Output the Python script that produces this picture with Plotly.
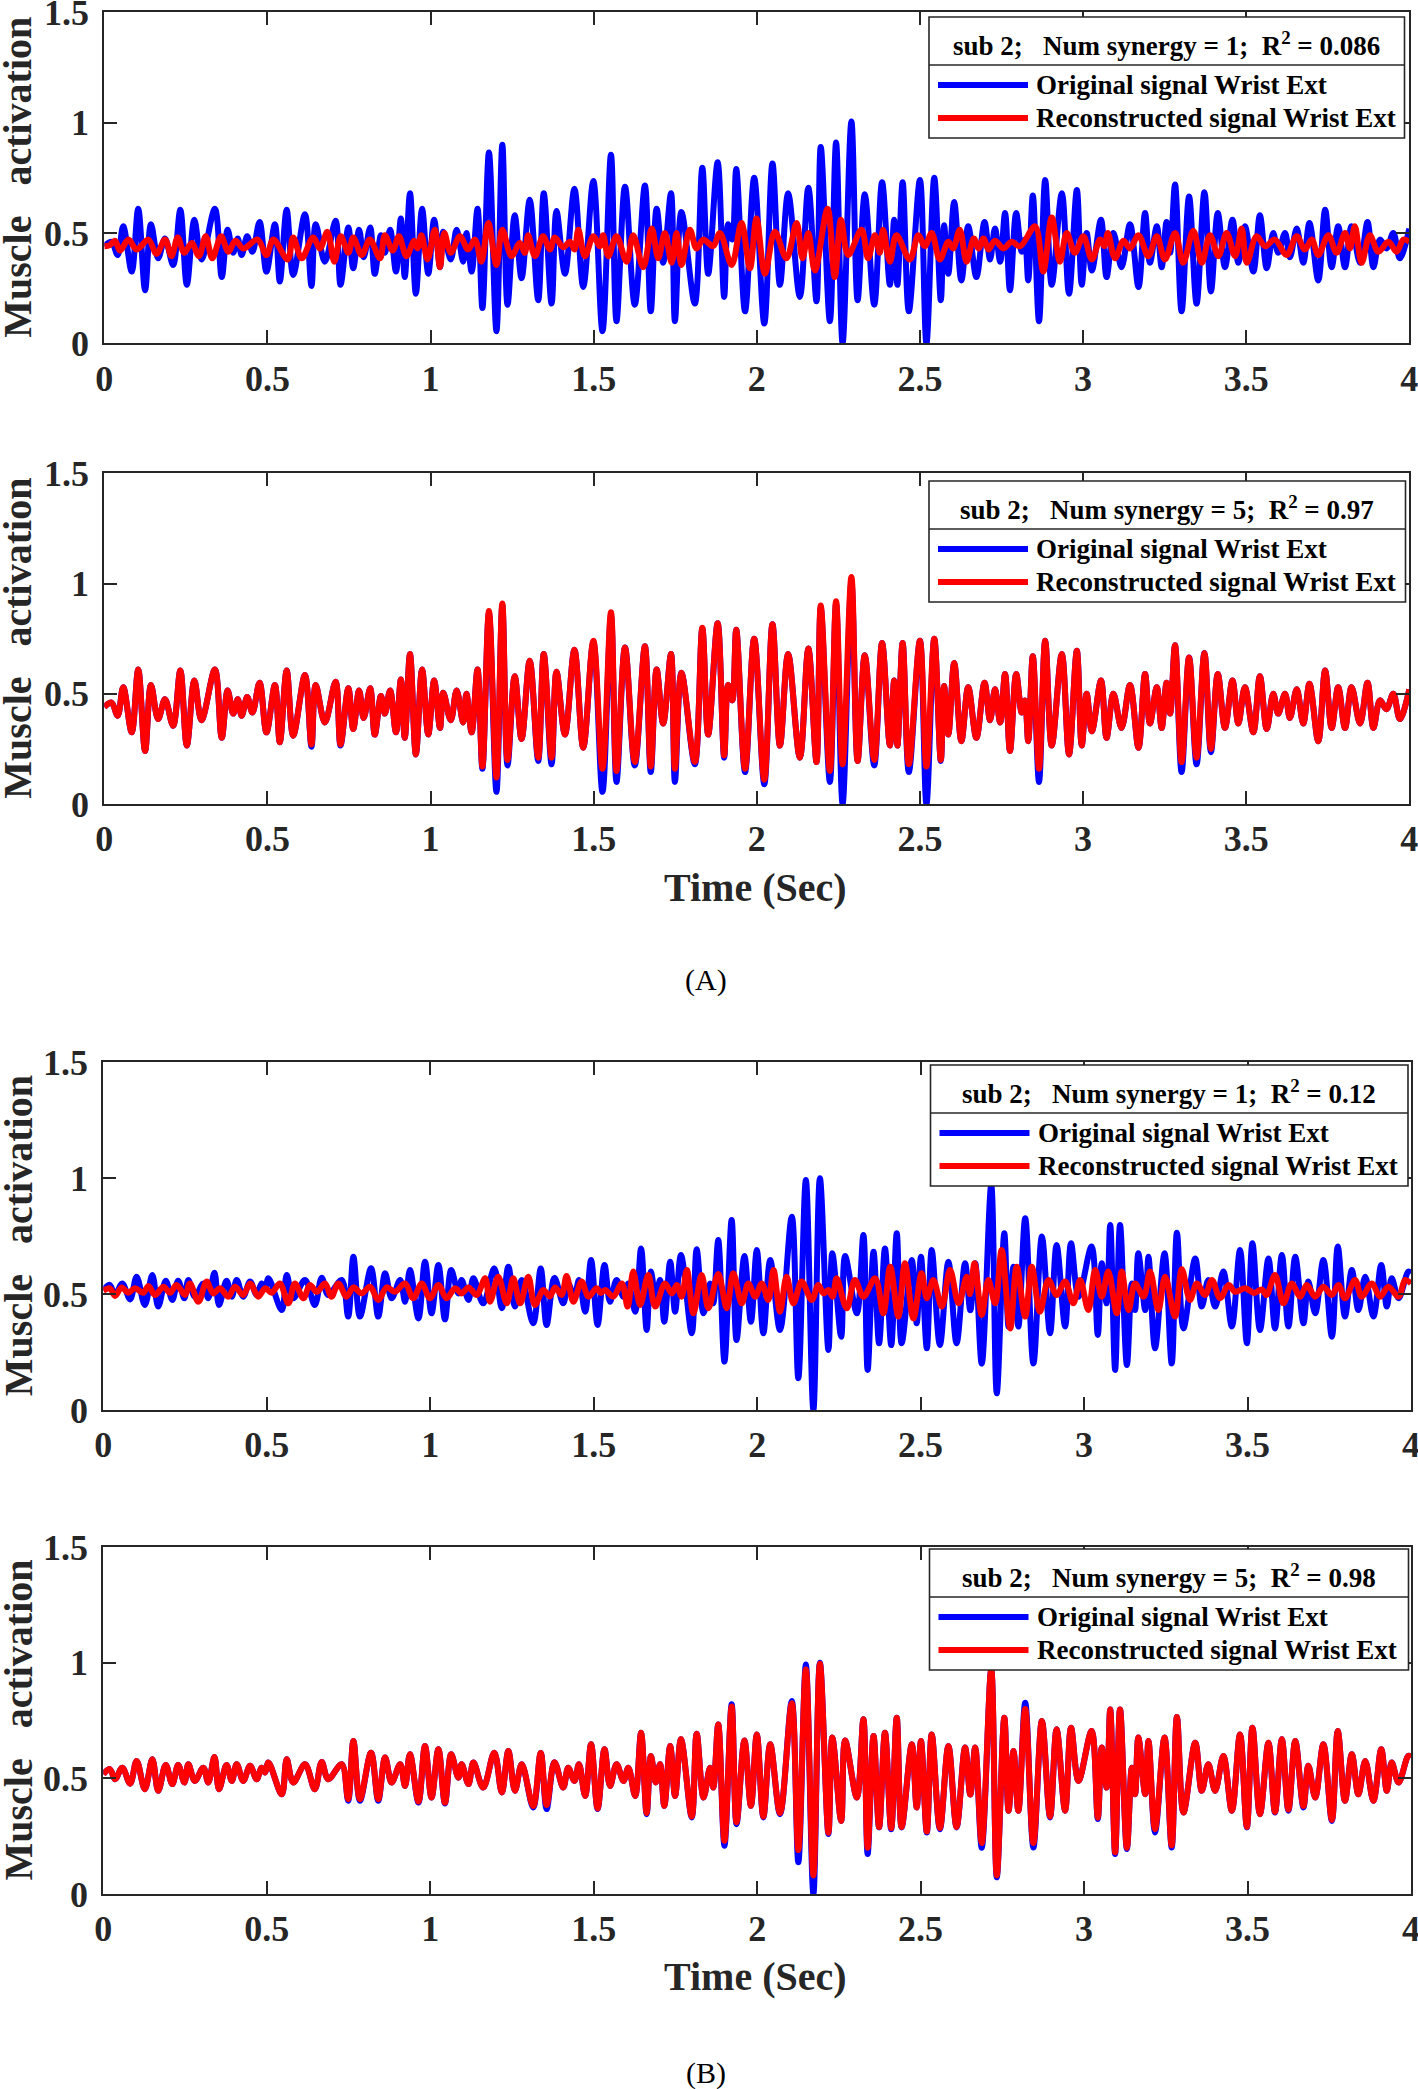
import plotly.graph_objects as go

W, H = 1418, 2089

# ---------------- data ----------------
# (A) original signal, Wrist Ext — extrema times (s) and values
t_orig_a = [0.000, 0.022, 0.041, 0.058, 0.084, 0.104, 0.125, 0.143, 0.165, 0.186, 0.211, 0.233, 0.253, 0.276, 0.298,
            0.339, 0.360, 0.378, 0.395, 0.409, 0.421, 0.438, 0.454, 0.476, 0.497, 0.523, 0.538, 0.559, 0.579, 0.615,
            0.635, 0.648, 0.676, 0.709, 0.724, 0.748, 0.763, 0.781, 0.795, 0.815, 0.829, 0.848, 0.860, 0.876, 0.894,
            0.909, 0.921, 0.937, 0.955, 0.974, 0.993, 1.011, 1.029, 1.039, 1.062, 1.080, 1.100, 1.110, 1.126, 1.144,
            1.159, 1.179, 1.202, 1.220, 1.236, 1.258, 1.279, 1.304, 1.330, 1.347, 1.371, 1.386, 1.412, 1.441, 1.468,
            1.499, 1.527, 1.553, 1.570, 1.596, 1.626, 1.657, 1.675, 1.693, 1.713, 1.737, 1.749, 1.769, 1.810, 1.833,
            1.851, 1.880, 1.900, 1.912, 1.925, 1.937, 1.964, 1.992, 2.023, 2.048, 2.071, 2.096, 2.132, 2.158, 2.183,
            2.196, 2.224, 2.243, 2.263, 2.290, 2.309, 2.331, 2.360, 2.384, 2.408, 2.421, 2.431, 2.447, 2.466, 2.500,
            2.520, 2.544, 2.564, 2.574, 2.587, 2.605, 2.627, 2.648, 2.673, 2.698, 2.715, 2.730, 2.746, 2.761, 2.776,
            2.795, 2.812, 2.822, 2.832, 2.846, 2.865, 2.884, 2.904, 2.935, 2.957, 2.981, 2.996, 3.011, 3.027, 3.055,
            3.072, 3.093, 3.118, 3.144, 3.170, 3.190, 3.205, 3.226, 3.241, 3.256, 3.267, 3.282, 3.302, 3.325, 3.348,
            3.372, 3.392, 3.413, 3.435, 3.458, 3.476, 3.496, 3.522, 3.542, 3.563, 3.583, 3.598, 3.619, 3.634, 3.655,
            3.675, 3.694, 3.721, 3.742, 3.762, 3.782, 3.803, 3.823, 3.849, 3.872, 3.890, 3.910, 3.930, 3.951, 3.971,
            4.000]
v_orig_a = [0.44, 0.46, 0.40, 0.53, 0.325, 0.61, 0.24, 0.54, 0.385, 0.475, 0.355, 0.605, 0.265, 0.56, 0.38,
            0.61, 0.30, 0.515, 0.41, 0.475, 0.40, 0.485, 0.415, 0.55, 0.325, 0.54, 0.28, 0.605, 0.31, 0.585,
            0.26, 0.54, 0.37, 0.555, 0.265, 0.525, 0.34, 0.515, 0.39, 0.525, 0.315, 0.49, 0.41, 0.515, 0.325,
            0.565, 0.30, 0.68, 0.225, 0.61, 0.315, 0.56, 0.345, 0.505, 0.38, 0.515, 0.37, 0.50, 0.325, 0.61,
            0.16, 0.865, 0.055, 0.90, 0.175, 0.58, 0.295, 0.65, 0.195, 0.68, 0.18, 0.60, 0.315, 0.70, 0.255,
            0.735, 0.055, 0.855, 0.10, 0.71, 0.175, 0.715, 0.145, 0.61, 0.365, 0.68, 0.10, 0.595, 0.18, 0.795,
            0.315, 0.82, 0.21, 0.54, 0.47, 0.79, 0.145, 0.75, 0.09, 0.815, 0.265, 0.68, 0.21, 0.705, 0.19,
            0.89, 0.10, 0.91, 0.0, 1.005, 0.195, 0.675, 0.175, 0.73, 0.265, 0.56, 0.265, 0.73, 0.145, 0.74,
            0.0, 0.75, 0.195, 0.535, 0.315, 0.64, 0.285, 0.53, 0.30, 0.55, 0.38, 0.52, 0.37, 0.59, 0.24,
            0.59, 0.415, 0.47, 0.285, 0.67, 0.10, 0.74, 0.265, 0.68, 0.225, 0.695, 0.265, 0.50, 0.33, 0.56,
            0.30, 0.50, 0.345, 0.54, 0.255, 0.59, 0.365, 0.53, 0.345, 0.55, 0.41, 0.72, 0.145, 0.665, 0.18,
            0.685, 0.235, 0.59, 0.345, 0.56, 0.365, 0.53, 0.325, 0.58, 0.34, 0.50, 0.41, 0.50, 0.39, 0.52,
            0.365, 0.545, 0.285, 0.605, 0.345, 0.53, 0.345, 0.53, 0.365, 0.55, 0.345, 0.47, 0.43, 0.50, 0.385,
            0.52]
# (A) reconstructed with 5 synergies (same time points as the original)
v_rec5_a = [0.44, 0.46, 0.40, 0.53, 0.325, 0.61, 0.24, 0.54, 0.385, 0.475, 0.355, 0.605, 0.265, 0.56, 0.38,
            0.61, 0.30, 0.515, 0.41, 0.475, 0.40, 0.485, 0.415, 0.55, 0.325, 0.54, 0.28, 0.605, 0.31, 0.585,
            0.27, 0.54, 0.37, 0.555, 0.27, 0.525, 0.34, 0.515, 0.39, 0.525, 0.315, 0.49, 0.41, 0.515, 0.325,
            0.565, 0.30, 0.68, 0.225, 0.61, 0.315, 0.56, 0.345, 0.505, 0.38, 0.515, 0.37, 0.50, 0.325, 0.61,
            0.17, 0.875, 0.12, 0.91, 0.20, 0.58, 0.295, 0.65, 0.21, 0.68, 0.21, 0.60, 0.315, 0.70, 0.255,
            0.74, 0.16, 0.87, 0.15, 0.71, 0.19, 0.715, 0.17, 0.61, 0.365, 0.68, 0.16, 0.595, 0.19, 0.80,
            0.315, 0.82, 0.22, 0.54, 0.47, 0.79, 0.16, 0.75, 0.11, 0.815, 0.265, 0.68, 0.21, 0.705, 0.19,
            0.90, 0.15, 0.92, 0.18, 1.03, 0.195, 0.675, 0.20, 0.73, 0.265, 0.56, 0.265, 0.73, 0.18, 0.74,
            0.17, 0.75, 0.20, 0.535, 0.315, 0.64, 0.285, 0.53, 0.30, 0.55, 0.38, 0.52, 0.37, 0.59, 0.24,
            0.59, 0.415, 0.47, 0.285, 0.67, 0.16, 0.74, 0.265, 0.68, 0.225, 0.695, 0.265, 0.50, 0.33, 0.56,
            0.30, 0.50, 0.345, 0.54, 0.255, 0.59, 0.365, 0.53, 0.345, 0.55, 0.41, 0.72, 0.19, 0.665, 0.21,
            0.685, 0.25, 0.59, 0.345, 0.56, 0.365, 0.53, 0.325, 0.58, 0.34, 0.50, 0.41, 0.50, 0.39, 0.52,
            0.365, 0.545, 0.285, 0.605, 0.345, 0.53, 0.345, 0.53, 0.365, 0.55, 0.345, 0.47, 0.43, 0.50, 0.385,
            0.52]
# (A) reconstructed with 1 synergy
t_rec1_a = [0.000, 0.017, 0.033, 0.048, 0.074, 0.099, 0.135, 0.160, 0.186, 0.206, 0.225, 0.245, 0.268, 0.290, 0.311,
            0.331, 0.358, 0.380, 0.402, 0.426, 0.470, 0.497, 0.518, 0.562, 0.579, 0.605, 0.640, 0.661, 0.684, 0.705,
            0.725, 0.748, 0.763, 0.789, 0.814, 0.845, 0.860, 0.884, 0.903, 0.926, 0.950, 0.960, 0.972, 0.991, 1.013,
            1.029, 1.042, 1.062, 1.090, 1.115, 1.136, 1.156, 1.177, 1.202, 1.220, 1.248, 1.274, 1.289, 1.299, 1.320,
            1.345, 1.366, 1.381, 1.407, 1.427, 1.441, 1.453, 1.473, 1.499, 1.519, 1.529, 1.545, 1.570, 1.601, 1.621,
            1.652, 1.678, 1.698, 1.718, 1.739, 1.754, 1.769, 1.795, 1.815, 1.836, 1.866, 1.887, 1.923, 1.953, 1.979,
            1.999, 2.025, 2.055, 2.091, 2.122, 2.140, 2.158, 2.178, 2.217, 2.239, 2.258, 2.280, 2.321, 2.341, 2.362,
            2.377, 2.387, 2.408, 2.428, 2.469, 2.495, 2.515, 2.536, 2.561, 2.587, 2.602, 2.622, 2.643, 2.665, 2.680,
            2.695, 2.710, 2.730, 2.756, 2.781, 2.807, 2.853, 2.878, 2.904, 2.929, 2.950, 2.975, 3.001, 3.027, 3.052,
            3.065, 3.076, 3.098, 3.124, 3.144, 3.170, 3.200, 3.226, 3.251, 3.282, 3.307, 3.338, 3.364, 3.389, 3.415,
            3.440, 3.466, 3.486, 3.502, 3.532, 3.558, 3.588, 3.624, 3.655, 3.680, 3.701, 3.721, 3.752, 3.777, 3.803,
            3.818, 3.833, 3.854, 3.879, 3.905, 3.936, 3.961, 3.982, 4.000]
v_rec1_a = [0.44, 0.445, 0.465, 0.42, 0.47, 0.425, 0.47, 0.405, 0.47, 0.395, 0.48, 0.41, 0.455, 0.395, 0.485,
            0.385, 0.485, 0.415, 0.465, 0.43, 0.47, 0.40, 0.47, 0.38, 0.48, 0.385, 0.48, 0.43, 0.505, 0.37,
            0.485, 0.41, 0.48, 0.40, 0.47, 0.385, 0.49, 0.42, 0.485, 0.395, 0.465, 0.43, 0.49, 0.38, 0.515,
            0.345, 0.50, 0.41, 0.485, 0.425, 0.47, 0.37, 0.545, 0.355, 0.515, 0.395, 0.455, 0.41, 0.49, 0.395,
            0.485, 0.425, 0.48, 0.435, 0.46, 0.425, 0.515, 0.395, 0.485, 0.44, 0.49, 0.395, 0.485, 0.37, 0.49,
            0.345, 0.52, 0.385, 0.50, 0.365, 0.50, 0.355, 0.515, 0.43, 0.47, 0.44, 0.50, 0.355, 0.545, 0.34,
            0.565, 0.315, 0.505, 0.385, 0.545, 0.385, 0.50, 0.33, 0.61, 0.30, 0.56, 0.40, 0.515, 0.385, 0.49,
            0.41, 0.515, 0.37, 0.49, 0.38, 0.49, 0.44, 0.50, 0.38, 0.46, 0.43, 0.515, 0.37, 0.475, 0.43,
            0.475, 0.425, 0.465, 0.43, 0.46, 0.44, 0.53, 0.325, 0.57, 0.37, 0.50, 0.41, 0.485, 0.38, 0.47,
            0.44, 0.50, 0.385, 0.465, 0.43, 0.49, 0.395, 0.485, 0.38, 0.50, 0.365, 0.51, 0.365, 0.49, 0.395,
            0.50, 0.395, 0.52, 0.365, 0.485, 0.44, 0.47, 0.40, 0.485, 0.425, 0.47, 0.40, 0.49, 0.41, 0.50,
            0.43, 0.53, 0.365, 0.49, 0.415, 0.46, 0.415, 0.47, 0.46]

# (B) original signal, Wrist Ext
t_orig_b = [0.000, 0.020, 0.036, 0.058, 0.082, 0.102, 0.127, 0.150, 0.168, 0.191, 0.211, 0.229, 0.248, 0.260, 0.280,
            0.306, 0.321, 0.340, 0.354, 0.377, 0.393, 0.408, 0.428, 0.449, 0.469, 0.484, 0.495, 0.505, 0.546, 0.561,
            0.581, 0.617, 0.647, 0.668, 0.688, 0.729, 0.749, 0.765, 0.785, 0.819, 0.841, 0.862, 0.882, 0.908, 0.923,
            0.938, 0.964, 0.984, 1.004, 1.025, 1.045, 1.064, 1.086, 1.096, 1.117, 1.132, 1.162, 1.196, 1.219, 1.239,
            1.259, 1.280, 1.315, 1.338, 1.356, 1.380, 1.407, 1.422, 1.441, 1.455, 1.474, 1.492, 1.512, 1.533, 1.550,
            1.570, 1.591, 1.606, 1.627, 1.645, 1.662, 1.675, 1.690, 1.703, 1.716, 1.734, 1.749, 1.767, 1.800, 1.815,
            1.836, 1.856, 1.866, 1.881, 1.900, 1.922, 1.937, 1.961, 1.981, 1.999, 2.019, 2.040, 2.070, 2.106, 2.126,
            2.149, 2.172, 2.192, 2.218, 2.230, 2.257, 2.269, 2.305, 2.325, 2.338, 2.356, 2.373, 2.391, 2.410, 2.427,
            2.442, 2.473, 2.488, 2.501, 2.519, 2.534, 2.559, 2.585, 2.610, 2.636, 2.652, 2.667, 2.687, 2.716, 2.733,
            2.756, 2.769, 2.784, 2.799, 2.820, 2.845, 2.871, 2.896, 2.916, 2.942, 2.960, 2.983, 3.023, 3.042, 3.054,
            3.069, 3.080, 3.095, 3.110, 3.131, 3.146, 3.156, 3.166, 3.187, 3.197, 3.217, 3.246, 3.268, 3.284, 3.304,
            3.340, 3.360, 3.380, 3.401, 3.426, 3.452, 3.477, 3.498, 3.515, 3.538, 3.564, 3.584, 3.605, 3.625, 3.646,
            3.671, 3.686, 3.707, 3.732, 3.758, 3.776, 3.798, 3.819, 3.839, 3.860, 3.885, 3.909, 3.926, 3.941, 3.962,
            3.992, 4.000]
v_orig_b = [0.518, 0.54, 0.496, 0.546, 0.477, 0.575, 0.453, 0.582, 0.446, 0.558, 0.475, 0.558, 0.482, 0.561, 0.489,
            0.546, 0.482, 0.592, 0.453, 0.558, 0.489, 0.561, 0.489, 0.554, 0.496, 0.546, 0.525, 0.568, 0.431, 0.582,
            0.482, 0.561, 0.453, 0.571, 0.496, 0.561, 0.403, 0.661, 0.403, 0.611, 0.403, 0.59, 0.482, 0.561, 0.467,
            0.604, 0.395, 0.64, 0.417, 0.626, 0.391, 0.604, 0.503, 0.561, 0.475, 0.568, 0.46, 0.611, 0.439, 0.618,
            0.446, 0.561, 0.374, 0.61, 0.367, 0.57, 0.46, 0.546, 0.489, 0.561, 0.424, 0.647, 0.367, 0.626, 0.467,
            0.561, 0.489, 0.546, 0.424, 0.697, 0.345, 0.597, 0.482, 0.561, 0.381, 0.64, 0.424, 0.669, 0.331, 0.693,
            0.417, 0.546, 0.46, 0.733, 0.209, 0.82, 0.302, 0.664, 0.381, 0.69, 0.331, 0.647, 0.345, 0.834, 0.137,
            0.992, 0.0, 1.0, 0.259, 0.676, 0.316, 0.664, 0.417, 0.755, 0.173, 0.683, 0.288, 0.697, 0.28, 0.762,
            0.288, 0.647, 0.374, 0.661, 0.266, 0.69, 0.28, 0.64, 0.288, 0.633, 0.43, 0.633, 0.20, 0.97, 0.072,
            0.762, 0.36, 0.618, 0.36, 0.827, 0.201, 0.748, 0.331, 0.712, 0.36, 0.719, 0.489, 0.705, 0.324, 0.633,
            0.46, 0.798, 0.173, 0.798, 0.194, 0.546, 0.431, 0.676, 0.431, 0.661, 0.266, 0.676, 0.201, 0.765, 0.352,
            0.654, 0.446, 0.561, 0.446, 0.597, 0.36, 0.69, 0.288, 0.719, 0.345, 0.654, 0.352, 0.669, 0.36, 0.661,
            0.374, 0.554, 0.417, 0.647, 0.316, 0.705, 0.403, 0.604, 0.431, 0.575, 0.403, 0.626, 0.446, 0.568, 0.482,
            0.597, 0.59]
# (B) reconstructed with 5 synergies (same time points as the original)
v_rec5_b = [0.518, 0.54, 0.496, 0.546, 0.477, 0.575, 0.453, 0.582, 0.446, 0.558, 0.475, 0.558, 0.482, 0.561, 0.489,
            0.546, 0.482, 0.592, 0.453, 0.558, 0.489, 0.561, 0.489, 0.554, 0.496, 0.546, 0.525, 0.568, 0.431, 0.582,
            0.482, 0.561, 0.453, 0.571, 0.496, 0.561, 0.41, 0.661, 0.41, 0.611, 0.41, 0.59, 0.482, 0.561, 0.467,
            0.604, 0.40, 0.64, 0.417, 0.626, 0.395, 0.604, 0.503, 0.561, 0.475, 0.568, 0.46, 0.611, 0.439, 0.618,
            0.446, 0.561, 0.38, 0.61, 0.385, 0.57, 0.46, 0.546, 0.489, 0.561, 0.424, 0.647, 0.37, 0.626, 0.467,
            0.561, 0.489, 0.546, 0.424, 0.697, 0.35, 0.597, 0.482, 0.561, 0.381, 0.64, 0.424, 0.669, 0.335, 0.693,
            0.417, 0.546, 0.46, 0.733, 0.23, 0.81, 0.31, 0.664, 0.381, 0.69, 0.335, 0.647, 0.35, 0.825, 0.19,
            0.97, 0.08, 0.995, 0.265, 0.676, 0.316, 0.664, 0.417, 0.755, 0.20, 0.683, 0.29, 0.697, 0.285, 0.762,
            0.29, 0.647, 0.374, 0.661, 0.27, 0.69, 0.285, 0.64, 0.29, 0.633, 0.43, 0.633, 0.22, 0.97, 0.08,
            0.762, 0.36, 0.618, 0.36, 0.80, 0.22, 0.748, 0.335, 0.712, 0.36, 0.719, 0.489, 0.705, 0.33, 0.633,
            0.46, 0.798, 0.18, 0.798, 0.20, 0.546, 0.431, 0.676, 0.431, 0.661, 0.28, 0.676, 0.21, 0.765, 0.352,
            0.654, 0.446, 0.561, 0.446, 0.597, 0.36, 0.69, 0.29, 0.719, 0.345, 0.654, 0.355, 0.669, 0.365, 0.661,
            0.38, 0.554, 0.417, 0.647, 0.32, 0.705, 0.403, 0.604, 0.431, 0.575, 0.403, 0.626, 0.446, 0.568, 0.482,
            0.597, 0.59]
# (B) reconstructed with 1 synergy
t_rec1_b = [0.000, 0.020, 0.036, 0.056, 0.076, 0.097, 0.122, 0.138, 0.158, 0.184, 0.204, 0.224, 0.250, 0.265, 0.291,
            0.316, 0.336, 0.357, 0.382, 0.403, 0.428, 0.449, 0.474, 0.495, 0.515, 0.540, 0.566, 0.586, 0.612, 0.632,
            0.653, 0.678, 0.698, 0.719, 0.744, 0.765, 0.790, 0.816, 0.841, 0.867, 0.892, 0.923, 0.948, 0.974, 0.999,
            1.025, 1.050, 1.076, 1.096, 1.117, 1.142, 1.168, 1.183, 1.208, 1.234, 1.254, 1.275, 1.300, 1.320, 1.346,
            1.366, 1.382, 1.402, 1.417, 1.438, 1.463, 1.484, 1.509, 1.522, 1.535, 1.560, 1.586, 1.604, 1.621, 1.642,
            1.667, 1.688, 1.718, 1.739, 1.754, 1.769, 1.785, 1.805, 1.830, 1.851, 1.881, 1.907, 1.927, 1.953, 1.973,
            1.994, 2.014, 2.034, 2.050, 2.070, 2.090, 2.111, 2.136, 2.167, 2.187, 2.203, 2.218, 2.231, 2.243, 2.274,
            2.299, 2.325, 2.361, 2.386, 2.407, 2.432, 2.452, 2.478, 2.503, 2.519, 2.539, 2.565, 2.590, 2.616, 2.641,
            2.651, 2.665, 2.687, 2.707, 2.728, 2.748, 2.774, 2.794, 2.820, 2.840, 2.865, 2.891, 2.916, 2.942, 2.967,
            2.988, 3.013, 3.034, 3.054, 3.074, 3.100, 3.115, 3.136, 3.156, 3.182, 3.202, 3.227, 3.248, 3.278, 3.299,
            3.324, 3.345, 3.370, 3.391, 3.416, 3.442, 3.462, 3.493, 3.520, 3.544, 3.558, 3.584, 3.610, 3.635, 3.661,
            3.681, 3.707, 3.732, 3.758, 3.778, 3.798, 3.829, 3.849, 3.880, 3.905, 3.931, 3.962, 3.982, 4.000]
v_rec1_b = [0.515, 0.525, 0.492, 0.529, 0.506, 0.525, 0.506, 0.535, 0.496, 0.532, 0.506, 0.539, 0.496, 0.546, 0.467,
            0.554, 0.503, 0.525, 0.489, 0.532, 0.496, 0.546, 0.489, 0.525, 0.506, 0.546, 0.46, 0.546, 0.482, 0.539,
            0.51, 0.546, 0.489, 0.546, 0.489, 0.529, 0.503, 0.532, 0.475, 0.529, 0.51, 0.546, 0.482, 0.546, 0.482,
            0.539, 0.482, 0.525, 0.503, 0.529, 0.496, 0.568, 0.467, 0.575, 0.46, 0.568, 0.46, 0.575, 0.453, 0.518,
            0.49, 0.529, 0.496, 0.578, 0.467, 0.554, 0.489, 0.525, 0.505, 0.518, 0.489, 0.546, 0.446, 0.597, 0.453,
            0.582, 0.446, 0.546, 0.503, 0.539, 0.489, 0.604, 0.417, 0.582, 0.439, 0.587, 0.439, 0.59, 0.46, 0.546,
            0.489, 0.546, 0.475, 0.604, 0.424, 0.575, 0.46, 0.554, 0.475, 0.539, 0.503, 0.518, 0.489, 0.568, 0.439,
            0.561, 0.489, 0.568, 0.417, 0.618, 0.403, 0.633, 0.395, 0.59, 0.482, 0.561, 0.446, 0.604, 0.46, 0.575,
            0.50, 0.633, 0.41, 0.561, 0.46, 0.69, 0.352, 0.618, 0.403, 0.618, 0.424, 0.561, 0.496, 0.554, 0.46,
            0.561, 0.431, 0.604, 0.489, 0.597, 0.417, 0.597, 0.431, 0.546, 0.489, 0.597, 0.431, 0.575, 0.403, 0.607,
            0.475, 0.546, 0.496, 0.561, 0.482, 0.539, 0.51, 0.525, 0.505, 0.52, 0.496, 0.582, 0.46, 0.546, 0.489,
            0.539, 0.489, 0.532, 0.496, 0.539, 0.482, 0.561, 0.489, 0.546, 0.489, 0.532, 0.489, 0.561, 0.546]

# axis ticks
x_tick_vals = [0, 0.5, 1, 1.5, 2, 2.5, 3, 3.5, 4]
x_tick_text = ["0", "0.5", "1", "1.5", "2", "2.5", "3", "3.5", "4"]
y_tick_vals = [0, 0.5, 1, 1.5]
y_tick_text = ["0", "0.5", "1", "1.5"]

# legend header info per panel
subjects = [2, 2, 2, 2]
synergies = [1, 5, 1, 5]
r2_values = ["0.086", "0.97", "0.12", "0.98"]
label_orig = "Original signal Wrist Ext"
label_rec = "Reconstructed signal Wrist Ext"

series = [
    (t_orig_a, v_orig_a, t_rec1_a, v_rec1_a),
    (t_orig_a, v_orig_a, t_orig_a, v_rec5_a),
    (t_orig_b, v_orig_b, t_rec1_b, v_rec1_b),
    (t_orig_b, v_orig_b, t_orig_b, v_rec5_b),
]

# ---------------- layout (pixels) ----------------
panels_px = [(104.3, 12.3, 1409.3, 343.3), (104.3, 473.3, 1409.3, 804.0),
             (103.3, 1062.3, 1411.0, 1410.0), (103.3, 1547.0, 1411.0, 1894.0)]
legend_px = [(929.0, 17.0, 1404.5), (929.0, 481.0, 1405.5), (930.5, 1065.0, 1408.0), (929.5, 1549.0, 1408.5)]
LEG_H = 121
LEG_SEP = 48

BLUE = "#0000FF"
RED = "#FF0000"
AXC = "#262626"
FONT = "Liberation Serif"


def px(x):
    return x / W


def py(y):
    return 1 - y / H


fig = go.Figure()
layout = dict(width=W, height=H, margin=dict(l=0, r=0, t=0, b=0, pad=0, autoexpand=False),
              paper_bgcolor="white", plot_bgcolor="white", showlegend=False)
shapes = []
annotations = []

for i, ((l, t, r, b), (to, vo, tr, vr)) in enumerate(zip(panels_px, series)):
    k = "" if i == 0 else str(i + 1)
    xa, ya = "x" + k, "y" + k
    fig.add_trace(go.Scatter(x=to, y=vo, mode="lines", xaxis=xa, yaxis=ya,
                             line=dict(color=BLUE, width=6, shape="spline", smoothing=1.0),
                             name=label_orig, hoverinfo="skip"))
    fig.add_trace(go.Scatter(x=tr, y=vr, mode="lines", xaxis=xa, yaxis=ya,
                             line=dict(color=RED, width=6, shape="spline", smoothing=1.0),
                             name=label_rec, hoverinfo="skip"))
    common = dict(ticks="inside", ticklen=13, tickwidth=2, tickcolor=AXC,
                  showline=True, linecolor=AXC, linewidth=2, mirror="ticks",
                  showgrid=False, zeroline=False, automargin=False, ticklabeloverflow="allow",
                  tickfont=dict(family=FONT, size=36, color=AXC, weight="bold"))
    layout["xaxis" + k] = dict(domain=[px(l), px(r)], anchor=ya, range=[0, 4],
                               tickmode="array", tickvals=x_tick_vals, ticktext=x_tick_text,
                               ticklabelstandoff=2, **common)
    layout["yaxis" + k] = dict(domain=[py(b), py(t)], anchor=xa, range=[0, 1.5],
                               tickmode="array", tickvals=y_tick_vals, ticktext=y_tick_text,
                               ticklabelstandoff=6, **common)
    # y-axis title
    annotations.append(dict(xref="paper", yref="paper", x=px(18), y=py((t + b) / 2),
                            text="Muscle\u00a0\u00a0\u00a0activation", textangle=-90, showarrow=False,
                            xanchor="center", yanchor="middle",
                            font=dict(family=FONT, size=40, color=AXC, weight="bold")))
    # custom legend box
    lx0, ly0, lx1 = legend_px[i]
    shapes.append(dict(type="rect", xref="paper", yref="paper", x0=px(lx0), x1=px(lx1),
                       y0=py(ly0 + LEG_H), y1=py(ly0), fillcolor="white",
                       line=dict(color=AXC, width=1.6), layer="above"))
    shapes.append(dict(type="line", xref="paper", yref="paper", x0=px(lx0), x1=px(lx1),
                       y0=py(ly0 + LEG_SEP), y1=py(ly0 + LEG_SEP),
                       line=dict(color=AXC, width=1.6), layer="above"))
    title = ("sub %d;\u00a0\u00a0\u00a0Num synergy = %d;\u00a0\u00a0R<sup>2</sup> = %s"
             % (subjects[i], synergies[i], r2_values[i]))
    annotations.append(dict(xref="paper", yref="paper", x=px((lx0 + lx1) / 2), y=py(ly0 + 27),
                            text=title, showarrow=False, xanchor="center", yanchor="middle",
                            font=dict(family=FONT, size=27, color="black", weight="bold")))
    for j, (col, lab) in enumerate([(BLUE, label_orig), (RED, label_rec)]):
        yy = ly0 + 68 + 33 * j
        shapes.append(dict(type="line", xref="paper", yref="paper", x0=px(lx0 + 9), x1=px(lx0 + 99),
                           y0=py(yy), y1=py(yy), line=dict(color=col, width=6), layer="above"))
        annotations.append(dict(xref="paper", yref="paper", x=px(lx0 + 105), y=py(yy),
                                text=lab, showarrow=False, xanchor="left", yanchor="middle",
                                font=dict(family=FONT, size=27, color="black", weight="bold")))

# x-axis titles and figure captions
for (yy, txt, sz, wt) in [(888, "Time (Sec)", 40, "bold"), (1976, "Time (Sec)", 40, "bold"),
                          (980, "(A)", 30, "normal"), (2073, "(B)", 30, "normal")]:
    annotations.append(dict(xref="paper", yref="paper", x=px(756 if "Time" in txt else 706), y=py(yy),
                            text=txt, showarrow=False, xanchor="center", yanchor="middle",
                            font=dict(family=FONT, size=sz, color=AXC if "Time" in txt else "black",
                                      weight=wt)))

layout["shapes"] = shapes
layout["annotations"] = annotations
fig.update_layout(**layout)
# the page's default 8px body margin would shift the figure; remove it
fig.write_html("out.html", config={"displayModeBar": False},
               post_script="document.body.style.margin='0';")
